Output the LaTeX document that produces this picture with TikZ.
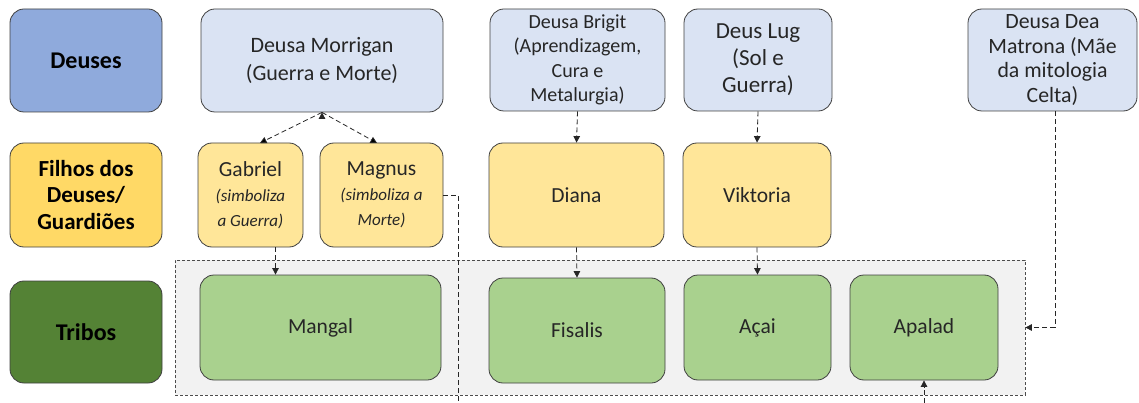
\documentclass[tikz,border=0pt]{standalone}
\usepackage{fontspec}
\setmainfont{Carlito}
\usetikzlibrary{arrows.meta,calc}
\definecolor{levelblue}{HTML}{8FAADC}
\definecolor{levelyellow}{HTML}{FFD966}
\definecolor{levelgreen}{HTML}{548235}
\definecolor{godfill}{HTML}{DAE3F3}
\definecolor{childfill}{HTML}{FFE699}
\definecolor{tribefill}{HTML}{A9D18E}
\definecolor{groupfill}{HTML}{F2F2F2}
\tikzset{
    >={Triangle[width=6.5pt,length=6.5pt]},
    diagram/.style={
        x=1pt, y=-1pt,
        box/.append style={align=center,draw=black!75,line width=0.8pt,rounded corners=14pt,inner sep=2pt,text=black!85},
        level/.append style={box,text=black,font=\bfseries\fontsize{23}{26.5}\selectfont},
        god/.append style={box,fill=godfill,font=\fontsize{20}{24.5}\selectfont},
        child/.append style={box,fill=childfill,font=\fontsize{21.5}{25}\selectfont},
        tribe/.append style={box,fill=tribefill,font=\fontsize{21.5}{25}\selectfont},
        group/.append style={draw=black!70,line width=0.7pt,dash pattern=on 3pt off 2pt,fill=groupfill},
        link/.append style={draw=black!85,line width=0.8pt,dash pattern=on 5pt off 3pt}
    }
}
\newcommand{\symb}[1]{{\fontsize{17}{21}\selectfont\itshape #1}}

\begin{document}
\begin{tikzpicture}[diagram]
    \useasboundingbox (0, 0) rectangle (1139, 403);

    % grupo das tribos
    \node[group, minimum width=850pt, minimum height=135pt] (tribebox) at (600, 327.5) {};

    % niveis
    \node[level, fill=levelblue, minimum width=152pt, minimum height=103pt, font=\bfseries\fontsize{24}{28}\selectfont] (deuses) at (86, 60.5) {Deuses};
    \node[level, fill=levelyellow, minimum width=152pt, minimum height=104pt] (filhos) at (86, 195) {Filhos dos\\Deuses/\\Guardiões};
    \node[level, fill=levelgreen, minimum width=152pt, minimum height=102pt, font=\bfseries\fontsize{24}{28}\selectfont] (tribos) at (86, 332) {Tribos};

    % deuses
    \node[god, minimum width=242pt, minimum height=103pt, font=\fontsize{22}{28}\selectfont] (morrigan) at (322, 60.5) {Deusa Morrigan\\(Guerra e Morte)};
    \node[god, minimum width=175pt, minimum height=102pt] (brigit) at (577.5, 60) {Deusa Brigit\\(Aprendizagem,\\Cura e\\Metalurgia)};
    \node[god, minimum width=148pt, minimum height=102pt, font=\fontsize{23}{27}\selectfont] (lug) at (758, 60) {Deus Lug\\(Sol e\\Guerra)};
    \node[god, minimum width=169pt, minimum height=102pt, font=\fontsize{21.8}{24.5}\selectfont] (matrona) at (1052.5, 60) {Deusa Dea\\Matrona (Mãe\\da mitologia\\Celta)};

    % filhos
    \node[child, minimum width=105pt, minimum height=104pt] (gabriel) at (250.5, 195) {Gabriel\\\symb{(simboliza}\\\symb{a Guerra)}};
    \node[child, minimum width=123pt, minimum height=104pt] (magnus) at (381.5, 195) {Magnus\\\symb{(simboliza a}\\\symb{Morte)}};
    \node[child, minimum width=175pt, minimum height=104pt] (diana) at (576.5, 195) {Diana};
    \node[child, minimum width=148pt, minimum height=104pt] (viktoria) at (757, 195) {Viktoria};

    % tribos
    \node[tribe, minimum width=241pt, minimum height=105pt] (mangal) at (320.5, 327.5) {Mangal};
    \node[tribe, minimum width=176pt, minimum height=105pt] (fisalis) at (577, 330.5) {Fisalis};
    \node[tribe, minimum width=147pt, minimum height=105pt] (acai) at (757.5, 327.5) {Açai};
    \node[tribe, minimum width=148pt, minimum height=105pt] (apalad) at (924, 327.5) {Apalad};

    \coordinate (magnusend) at (458, 403);
    \coordinate (apaladin) at (924, 403);

    % ligacoes
    \path[link,->] (morrigan.south) edge (260, 143)
                   (morrigan.south) edge (377, 143);
    \draw[link,->] (brigit.south) -- (diana.north);
    \draw[link,->] (lug.south) -- (viktoria.north);
    \draw[link,->] ([xshift=25pt]gabriel.south) -- ([xshift=25pt]gabriel.south |- mangal.north);
    \draw[link,->] (diana.south) -- (fisalis.north);
    \draw[link,->] (viktoria.south) -- (acai.north);
    \draw[link] (magnus.east) -| (magnusend);
    \draw[link,->] ([xshift=2.5pt]matrona.south) |- (tribebox.east);
    \draw[link,->] (apaladin) -- (apalad.south);
\end{tikzpicture}
\end{document}
